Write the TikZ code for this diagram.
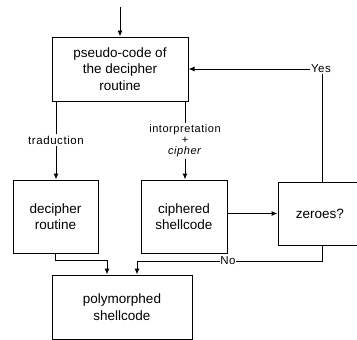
\documentclass[tikz,border=0pt]{standalone}
\usepackage{fontspec}
\setmainfont{Liberation Sans}
\newfontfamily\labfont[LetterSpace=5]{Liberation Sans}
\usetikzlibrary{arrows.meta}
\begin{document}
\begin{tikzpicture}[x=1pt,y=-1pt,
  box/.style={draw,line width=1pt,align=center,inner sep=0pt,
    font=\fontsize{13.5}{16.5}\selectfont},
  lab/.style={fill=white,align=center,inner sep=1.5pt,
    font=\labfont\fontsize{11.5}{10}\selectfont},
  conn/.style={line width=1pt},
  arr/.style={line width=1pt,-{Latex[length=6pt,width=5pt]}}]
\useasboundingbox (0,0) rectangle (357,340);
\node[box,minimum width=136pt,minimum height=64pt] (P) at (120,69) {pseudo-code of\\the decipher\\routine};
\node[box,minimum width=85pt,minimum height=73pt] (D) at (55.5,216.5) {decipher\\routine};
\node[box,minimum width=86pt,minimum height=73pt] (C) at (184,216.5) {ciphered\\shellcode};
\node[box,minimum width=84pt,minimum height=63pt] (Z) at (320,213.5) {zeroes?};
\node[box,minimum width=140pt,minimum height=64pt] (M) at (122,307) {polymorphed\\shellcode};
\coordinate (start) at (120,7);
\node[lab,inner sep=0.5pt] (yes) at (321,69) {Yes};
\node[lab] (trad) at (56,140) {traduction};
\node[lab,font=\labfont\fontsize{11}{11}\selectfont] (interp) at (185,141) {intorpretation\\+\\\textit{cipher}};
\node[lab,inner sep=0.5pt] (no) at (228,261) {No};
% connectors
\draw[arr] (start) -- (P.north);
\draw[conn] (P.south -| trad) -- (trad.north);
\draw[arr] (trad.south) -- (trad |- D.north);
\draw[conn] (P.south -| interp) -- (interp.north);
\draw[arr] (interp.south) -- (interp |- C.north);
\draw[arr] (C.east |- Z.west) -- (Z.west);
\draw[conn] (Z.north -| 322,0) -- (322,0 |- yes.south);
\draw[arr] (yes.west) -- (P.east);
\draw[arr] (D.south) -- (55.5,260) -- (107,260) -- (107,0 |- M.north);
\draw[conn] (Z.south -| 322,0) -- (322,261) -- (no.east);
\draw[arr] (no.west) -- (137,261) -- (137,0 |- M.north);
\end{tikzpicture}
\end{document}
